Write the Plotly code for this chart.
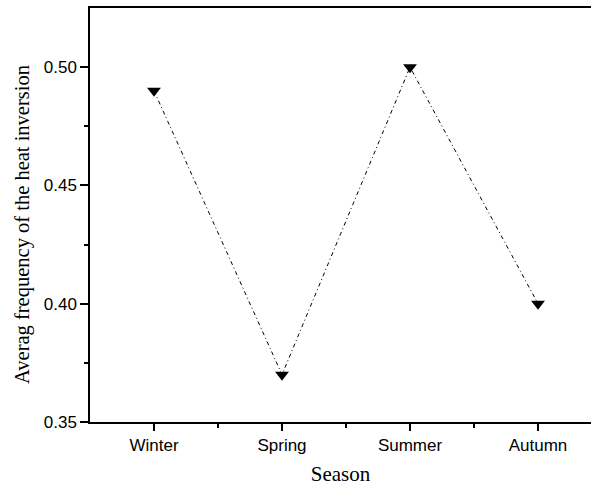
import plotly.graph_objects as go

seasons = ["Winter", "Spring", "Summer", "Autumn"]
freq = [0.49, 0.37, 0.50, 0.40]
x_pos = [0, 1, 2, 3]
y_ticks = [0.35, 0.40, 0.45, 0.50]
y_ticklabels = ["0.35", "0.40", "0.45", "0.50"]
y_title = "Averag frequency of the heat inversion"
x_title = "Season"

fig = go.Figure()
fig.add_trace(go.Scatter(
    x=x_pos, y=freq, mode="lines+markers",
    line=dict(color="black", width=1, dash="4px,3px,1px,3px"),
    marker=dict(symbol="triangle-down", size=12, color="black"),
    showlegend=False,
))

fig.update_layout(
    width=591, height=486,
    margin=dict(l=90, r=0, t=8, b=64),
    paper_bgcolor="white", plot_bgcolor="white",
    xaxis=dict(
        range=[-0.5, 3.414],
        tickvals=x_pos, ticktext=seasons,
        ticks="outside", ticklen=7, tickwidth=1.5, tickcolor="black",
        minor=dict(tickvals=[0.5, 1.5, 2.5], ticks="outside", ticklen=4, tickwidth=1.5, tickcolor="black"),
        showline=True, linecolor="black", linewidth=1.5, mirror=True,
        showgrid=False, zeroline=False,
        tickfont=dict(family="Liberation Sans, Arial", size=17, color="black"),
        title=dict(text=x_title, font=dict(family="Liberation Serif, Times New Roman", size=21, color="black"), standoff=13),
    ),
    yaxis=dict(
        range=[0.35, 0.525],
        tickvals=y_ticks, ticktext=y_ticklabels,
        ticks="outside", ticklen=8, tickwidth=1.5, tickcolor="black",
        minor=dict(tickvals=[0.375, 0.425, 0.475], ticks="outside", ticklen=4, tickwidth=1.5, tickcolor="black"),
        showline=True, linecolor="black", linewidth=1.5,
        showgrid=False, zeroline=False,
        tickfont=dict(family="Liberation Sans, Arial", size=17, color="black"),
    ),
    annotations=[dict(
        text=y_title, textangle=-90, showarrow=False,
        xref="paper", yref="paper", x=(22 - 90) / 501, y=(422 - 225) / 414,
        xanchor="center", yanchor="middle",
        font=dict(family="Liberation Serif, Times New Roman", size=20.5, color="black"),
    )],
)

fig.write_html("out.html")
